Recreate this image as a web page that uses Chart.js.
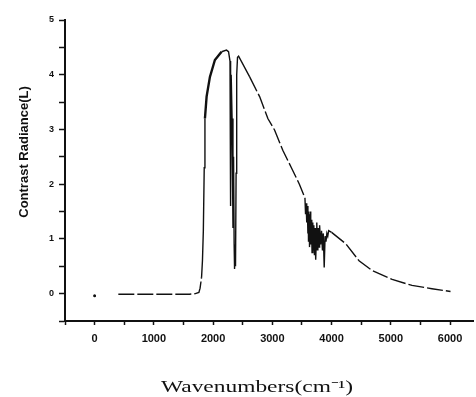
<!DOCTYPE html>
<html>
<head>
<meta charset="utf-8">
<script src="https://cdn.jsdelivr.net/npm/chart.js@4.4.1/dist/chart.umd.min.js"></script>
<style>
  html, body { margin: 0; padding: 0; background: #fff; }
  #wrap { width: 476px; height: 397px; }
</style>
</head>
<body>
<div id="wrap"><canvas id="spectrum_chart"></canvas></div>
<script>
// valores
var wavenumbers = [0, 150, 400, 700, 1000, 1300, 1600, 1700, 1760, 1780, 1805, 1820, 1835, 1850, 1862, 1890, 1946, 2030, 2142, 2226,
    2260, 2285, 2295, 2305, 2320, 2335, 2345, 2355, 2362, 2370, 2378, 2388, 2398, 2412, 2430,
    2617, 2785, 2924, 3037, 3176, 3317, 3456, 3550,
    3560, 3570, 3580, 3590, 3600, 3605, 3610, 3620, 3625, 3630, 3640, 3645, 3650, 3660, 3665, 3670, 3680, 3685, 3690,
    3700, 3705, 3710, 3720, 3728, 3735, 3745, 3750, 3760, 3768, 3775, 3790, 3795, 3800, 3815, 3822, 3830, 3845, 3852,
    3860, 3875, 3890, 3905, 3920, 3935, 3950,
    4000, 4240, 4463, 4686, 5022, 5357, 5693, 6007];
var radiance = [-0.04, null, -0.01, -0.01, -0.01, -0.01, -0.01, 0.0, 0.02, 0.1, 0.3, 0.6, 1.15, 2.3, 3.2, 3.6, 3.96, 4.27, 4.42, 4.45,
    4.42, 4.25, 1.6, 4.0, 3.2, 1.2, 2.5, 0.9, 0.45, 0.8, 0.5, 2.2, 4.0, 4.32, 4.34,
    3.96, 3.6, 3.2, 2.99, 2.62, 2.31, 2.0, 1.75,
    1.45, 1.65, 1.3, 1.6, 1.1, 1.5, 0.95, 1.45, 1.1, 0.85, 1.5, 1.0, 0.9, 1.35, 1.05, 0.75, 1.3, 0.95, 0.8,
    1.25, 0.9, 0.7, 1.2, 0.85, 0.62, 1.1, 1.3, 0.8, 1.15, 1.2, 0.85, 1.1, 1.25, 0.9, 1.1, 1.15, 0.8, 1.05,
    1.1, 0.48, 1.05, 0.95, 1.1, 1.05, 1.15,
    1.12, 0.91, 0.6, 0.42, 0.26, 0.15, 0.09, 0.04];

var xTicks = [0, 1000, 2000, 3000, 4000, 5000, 6000];
var yTicks = [0, 1, 2, 3, 4, 5];
var xTitle = "Wavenumbers(cm\u207B\u00B9)";
var yTitle = "Contrast Radiance(L)";

function puntos() {
    var lista = [];
    wavenumbers.forEach(function (w, i) {
        lista.push({ x: w, y: radiance[i] });
    });
    return lista;
}

// titulos dibujados a mano (el de abajo va estirado como en el escaneo)
const titulos = {
    id: "titulos",
    afterDraw: function (chart) {
        const ctx = chart.ctx;
        ctx.save();
        ctx.fillStyle = "#111";
        ctx.font = "bold 13px 'Liberation Sans', Arial, sans-serif";
        ctx.textAlign = "center";
        ctx.textBaseline = "middle";
        ctx.translate(24, 152);
        ctx.rotate(-Math.PI / 2);
        ctx.fillText(yTitle, 0, 0);
        ctx.restore();

        ctx.save();
        ctx.fillStyle = "#111";
        ctx.font = "16px 'Liberation Serif', 'Times New Roman', serif";
        ctx.textAlign = "center";
        ctx.textBaseline = "alphabetic";
        var w = ctx.measureText(xTitle).width;
        ctx.translate(257, 392);
        ctx.scale(192 / w, 1);
        ctx.fillText(xTitle, 0, 0);
        ctx.restore();
    }
};

function solido(x) {
    return (x > 1800 && x < 2440) || (x > 3540 && x < 3960);
}

function Grafica() {
    let ctx = document.getElementById("spectrum_chart").getContext("2d");
    const chart = new Chart(ctx, {
        type: "scatter",
        data: {
            datasets: [{
                data: puntos(),
                showLine: true,
                borderColor: "#111",
                backgroundColor: "#111",
                borderWidth: 1.4,
                pointRadius: function (c) { return c.dataIndex === 0 ? 0.8 : 0; },
                pointHoverRadius: 0,
                spanGaps: false,
                tension: 0,
                segment: {
                    borderDash: function (c) {
                        return solido(c.p0.parsed.x) ? undefined : [16, 3];
                    },
                    borderWidth: function (c) {
                        var x = c.p0.parsed.x;
                        return (x >= 1862 && x < 2142) ? 2.4 : undefined;
                    }
                }
            }]
        },
        options: {
            responsive: true,
            maintainAspectRatio: false,
            animation: false,
            layout: { padding: { top: 20, right: 0, left: 0, bottom: 0 } },
            plugins: { legend: { display: false }, tooltip: { enabled: false } },
            scales: {
                x: {
                    type: "linear",
                    min: -500,
                    max: 6400,
                    afterBuildTicks: function (scale) {
                        var t = [];
                        for (var v = -500; v <= 6000; v += 500) t.push({ value: v });
                        scale.ticks = t;
                    },
                    afterFit: function (scale) { scale.height = 76; },
                    grid: { drawOnChartArea: false, tickLength: 4, tickWidth: 1.5, tickColor: "#111" },
                    border: { display: true, color: "#111", width: 2 },
                    ticks: {
                        color: "#111",
                        padding: 7,
                        maxRotation: 0,
                        autoSkip: false,
                        font: { family: "'Liberation Sans', Arial, sans-serif", size: 11, weight: "bold" },
                        callback: function (v) { return xTicks.indexOf(v) >= 0 ? String(v) : ""; }
                    }
                },
                y: {
                    type: "linear",
                    min: -0.5,
                    max: 5,
                    afterBuildTicks: function (scale) {
                        var t = [];
                        for (var v = -0.5; v <= 5.001; v += 0.5) t.push({ value: Math.round(v * 10) / 10 });
                        scale.ticks = t;
                    },
                    afterFit: function (scale) { scale.width = 65; },
                    grid: { drawOnChartArea: false, tickLength: 6, tickWidth: 1.5, tickColor: "#111" },
                    border: { display: true, color: "#111", width: 2 },
                    ticks: {
                        color: "#111",
                        padding: 5,
                        autoSkip: false,
                        font: { family: "'Liberation Sans', Arial, sans-serif", size: 9, weight: "bold" },
                        callback: function (v) { return yTicks.indexOf(v) >= 0 ? String(v) : ""; }
                    }
                }
            }
        },
        plugins: [titulos]
    });
}

Grafica();
</script>
</body>
</html>
